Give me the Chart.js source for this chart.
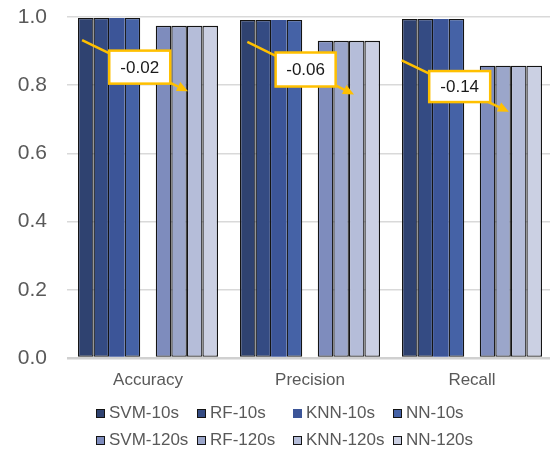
<!DOCTYPE html>
<html>
<head>
<meta charset="utf-8">
<script src="https://cdn.jsdelivr.net/npm/chart.js@4.4.1/dist/chart.umd.min.js"></script>
<style>
  html, body { margin: 0; padding: 0; overflow: hidden; background: #fff; width: 550px; height: 452px; }
  #wrap { position: relative; width: 556px; height: 452px; }
  canvas { display: block; }
  #legend { position: absolute; left: 0; top: 0; width: 550px; height: 452px; pointer-events: none;
            font-family: "Liberation Sans", Arial, sans-serif; font-size: 17px; color: #595959; }
  .item { position: absolute; display: flex; align-items: center; white-space: nowrap; height: 20px; line-height: 20px; }
  .sw { width: 9px; height: 9px; box-sizing: border-box; margin-right: 4px; }
</style>
</head>
<body>
<div id="wrap">
  <canvas id="c" width="556" height="452"></canvas>
  <div id="legend"></div>
</div>
<script>
// Metrics on the x axis
const categories = ['Accuracy', 'Precision', 'Recall'];

// Scores with 10 s windows
const svm10 = [0.997, 0.991, 0.994];
const rf10  = [0.997, 0.991, 0.994];
const knn10 = [0.997, 0.991, 0.994];
const nn10  = [0.997, 0.991, 0.994];

// Scores with 120 s windows
const svm120 = [0.974, 0.930, 0.857];
const rf120  = [0.974, 0.930, 0.857];
const knn120 = [0.974, 0.930, 0.857];
const nn120  = [0.974, 0.930, 0.857];

// Value axis ticks
const yTicks = [0, 0.2, 0.4, 0.6, 0.8, 1.0];

const FONT = '"Liberation Sans", Arial, sans-serif';
const EDGE = '#141414';

function series(label, data, color, border) {
  return {
    label, data,
    backgroundColor: color,
    borderColor: EDGE,
    borderWidth: border,
    borderSkipped: false
  };
}

const datasets = [
  series('SVM-10s', svm10, '#2f4270', 1.3),
  series('RF-10s',  rf10,  '#344b83', 1.3),
  series('KNN-10s', knn10, '#3c5598', 0),
  series('NN-10s',  nn10,  '#4562a6', 1.3),
  // empty slot that separates the 10 s and 120 s groups
  { label: '', data: categories.map(() => null), backgroundColor: 'rgba(0,0,0,0)', spacer: true },
  series('SVM-120s', svm120, '#7e8cbd', 1.3),
  series('RF-120s',  rf120,  '#9ba6ca', 1.3),
  series('KNN-120s', knn120, '#b5bdd9', 1.3),
  series('NN-120s',  nn120,  '#cbd0e3', 1.3)
];

// Drop from the 10 s group to the 120 s group, per metric
const tens = [svm10, rf10, knn10, nn10];
const longs = [svm120, rf120, knn120, nn120];
const mean = (arrs, i) => arrs.reduce((s, a) => s + a[i], 0) / arrs.length;
const drops = categories.map((_, i) => mean(longs, i) - mean(tens, i));

// Callout placement: x as offset in category widths from the category centre, y in axis units
const callouts = [
  { from: [-0.407, 0.932], to: [0.247, 0.782], box: [-0.051, 0.853], w: 61, h: 33 },
  { from: [-0.387, 0.927], to: [0.272, 0.773], box: [-0.027, 0.846], w: 60, h: 34 },
  { from: [-0.434, 0.873], to: [0.228, 0.722], box: [-0.076, 0.796], w: 61, h: 31 }
];

const calloutPlugin = {
  id: 'callouts',
  afterDatasetsDraw(chart) {
    const ctx = chart.ctx;
    const xs = chart.scales.x, ys = chart.scales.y;
    const cw = xs.width / categories.length;
    const px = (i, p) => [xs.getPixelForValue(i) + p[0] * cw, ys.getPixelForValue(p[1])];
    const gold = '#FFC000';
    ctx.save();
    callouts.forEach((c, i) => {
      const [x1, y1] = px(i, c.from);
      const [x2, y2] = px(i, c.to);
      const ang = Math.atan2(y2 - y1, x2 - x1);
      const hl = 11, hw = 5;
      const bx = x2 - hl * Math.cos(ang), by = y2 - hl * Math.sin(ang);
      ctx.strokeStyle = gold;
      ctx.fillStyle = gold;
      ctx.lineWidth = 2.5;
      ctx.beginPath();
      ctx.moveTo(x1, y1);
      ctx.lineTo(bx, by);
      ctx.stroke();
      ctx.beginPath();
      ctx.moveTo(x2, y2);
      ctx.lineTo(bx + hw * Math.sin(ang), by - hw * Math.cos(ang));
      ctx.lineTo(bx - hw * Math.sin(ang), by + hw * Math.cos(ang));
      ctx.closePath();
      ctx.fill();

      const [cx, cy] = px(i, c.box);
      ctx.fillStyle = '#ffffff';
      ctx.fillRect(cx - c.w / 2, cy - c.h / 2, c.w, c.h);
      ctx.lineWidth = 2.5;
      ctx.strokeRect(cx - c.w / 2, cy - c.h / 2, c.w, c.h);
      ctx.fillStyle = '#1a1a1a';
      ctx.font = '17px ' + FONT;
      ctx.textAlign = 'center';
      ctx.textBaseline = 'middle';
      ctx.fillText(drops[i].toFixed(2), cx, cy + 1);
    });
    ctx.restore();
  }
};

// Legend laid out as a 4 x 2 grid under the axis
const htmlLegend = {
  id: 'htmlLegend',
  afterUpdate(chart) {
    const box = document.getElementById('legend');
    box.innerHTML = '';
    const cols = [96, 197, 293, 393];
    const rows = [413, 440];
    chart.data.datasets.filter(d => !d.spacer).forEach((d, k) => {
      const item = document.createElement('div');
      item.className = 'item';
      item.style.left = cols[k % 4] + 'px';
      item.style.top = (rows[Math.floor(k / 4)] - 10) + 'px';
      const sw = document.createElement('span');
      sw.className = 'sw';
      sw.style.background = d.backgroundColor;
      sw.style.border = d.borderWidth ? '1px solid ' + EDGE : 'none';
      const tx = document.createElement('span');
      tx.textContent = d.label;
      item.appendChild(sw);
      item.appendChild(tx);
      box.appendChild(item);
    });
  }
};

new Chart(document.getElementById('c'), {
  type: 'bar',
  data: { labels: categories, datasets },
  options: {
    responsive: false,
    animation: false,
    devicePixelRatio: 1,
    layout: { padding: { top: 17, right: 3, left: 0, bottom: 0 } },
    datasets: { bar: { barPercentage: 1, categoryPercentage: 140 / 162 } },
    plugins: {
      legend: { display: false },
      tooltip: { enabled: false }
    },
    scales: {
      x: {
        grid: { display: false, drawTicks: false },
        border: { display: false },
        ticks: { color: '#595959', font: { family: FONT, size: 17 }, padding: 12 },
        afterFit(s) { s.height = 94; s.paddingLeft = 0; s.paddingRight = 0; }
      },
      y: {
        min: 0, max: 1,
        afterBuildTicks(s) { s.ticks = yTicks.map(v => ({ value: v })); },
        grid: {
          drawTicks: false,
          color: c => (c.tick && c.tick.value === 0) ? '#d0d0d0' : '#d9d9d9',
          lineWidth: c => (c.tick && c.tick.value === 0) ? 2.5 : 1.5
        },
        border: { display: false },
        ticks: {
          color: '#595959',
          font: { family: FONT, size: 21 },
          padding: 20,
          callback: v => Number(v).toFixed(1)
        },
        afterFit(s) { s.width = 67; s.paddingTop = 0; s.paddingBottom = 0; }
      }
    }
  },
  plugins: [calloutPlugin, htmlLegend]
});
</script>
</body>
</html>
